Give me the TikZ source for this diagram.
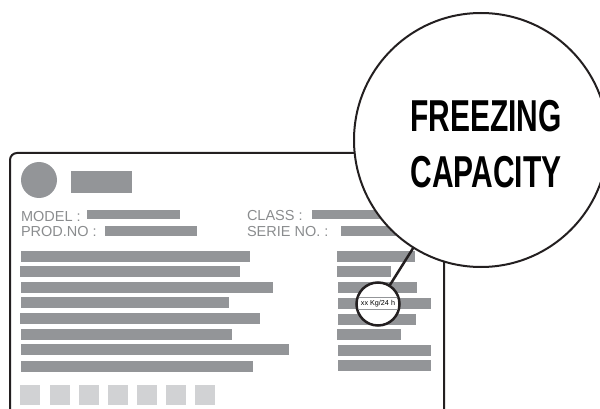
\documentclass[tikz,border=0pt]{standalone}
\usepackage{fontspec}
\setmainfont{Liberation Sans}
\usepackage{graphicx}
\usetikzlibrary{positioning}
\definecolor{bargray}{HTML}{939598}
\definecolor{boxgray}{HTML}{D1D2D4}
\definecolor{txtgray}{HTML}{8A8C8E}
\definecolor{ink}{HTML}{231F20}

\begin{document}
\begin{tikzpicture}[x=1pt,y=-1pt]
\tikzstyle{every node}=[inner sep=0pt, outer sep=0pt]
\tikzstyle{field}=[anchor=base west, text=txtgray, font=\fontsize{14.5}{14.5}\selectfont]
\tikzstyle{bar}=[fill=bargray]
\tikzstyle{key}=[fill=boxgray]
\tikzstyle{big}=[anchor=base, font=\fontsize{44.7}{44.7}\selectfont\bfseries]
\useasboundingbox (0,0) rectangle (600,409);
% label
\draw [ink, line width=2, rounded corners=7] (10,430) -- (10,153) -- (444,153) -- (444,430);
\node[circle, fill=bargray, minimum size=36] (logo) at (39,180) {};
\fill [bar] (71,171) rectangle (132,193);
\node[field] (model) at (21,221) {MODEL :};
\node[field] (prod) at (21,236) {PROD.NO :};
\node[field] (class) at (247,220) {CLASS :};
\node[field] (serie) at (247,236) {SERIE NO. :};
\fill [bar] (87,210) rectangle (180,219);
\fill [bar] (105,226) rectangle (197,236);
\fill [bar] (312,210) rectangle (395,219);
\fill [bar] (341,226) rectangle (405,236);
% left column
\fill [bar] (21,251) rectangle (250,262);
\fill [bar] (20,266) rectangle (240,277);
\fill [bar] (21,282) rectangle (273,293);
\fill [bar] (21,297) rectangle (229,308);
\fill [bar] (20,313) rectangle (260,324);
\fill [bar] (21,329) rectangle (232,340);
\fill [bar] (21,344) rectangle (289,355);
\fill [bar] (21,361) rectangle (253,372);
% right column
\fill [bar] (337,251) rectangle (415,262);
\fill [bar] (337,266) rectangle (391,277);
\fill [bar] (338,282) rectangle (417,293);
\fill [bar] (338,298) rectangle (431,309);
\fill [bar] (338,314) rectangle (416,325);
\fill [bar] (337,329) rectangle (401,340);
\fill [bar] (338,345) rectangle (431,356);
\fill [bar] (338,360) rectangle (431,371);
% keys
\fill [key] (20,385) rectangle (40,405);
\fill [key] (50,385) rectangle (70,405);
\fill [key] (79,385) rectangle (99,405);
\fill [key] (108,385) rectangle (128,405);
\fill [key] (137,385) rectangle (157,405);
\fill [key] (166,385) rectangle (186,405);
\fill [key] (195,385) rectangle (215,405);
% magnifier
\node[circle, draw=ink, fill=white, line width=2.5, minimum size=43] (mag) at (378,304) {};
\begin{scope}
\clip (378,304) circle (20.5);
\draw [bargray, line width=0.8] (350,297.5) -- (410,297.5);
\draw [bargray, line width=0.8] (350,309.5) -- (410,309.5);
\end{scope}
\node[font=\fontsize{7.2}{7.2}\selectfont] (rate) at (378,303.5) {xx Kg/24 h};
\node[circle, draw=ink, fill=white, line width=2, minimum size=254] (zoom) at (481,140) {};
\draw [ink, line width=2.5] (mag) -- (zoom);
\node[big] (frz) at (486,132) {\scalebox{0.67}[1]{FREEZING}};
\node[big] (cap) at (486,188) {\scalebox{0.67}[1]{CAPACITY}};
\end{tikzpicture}
\end{document}
